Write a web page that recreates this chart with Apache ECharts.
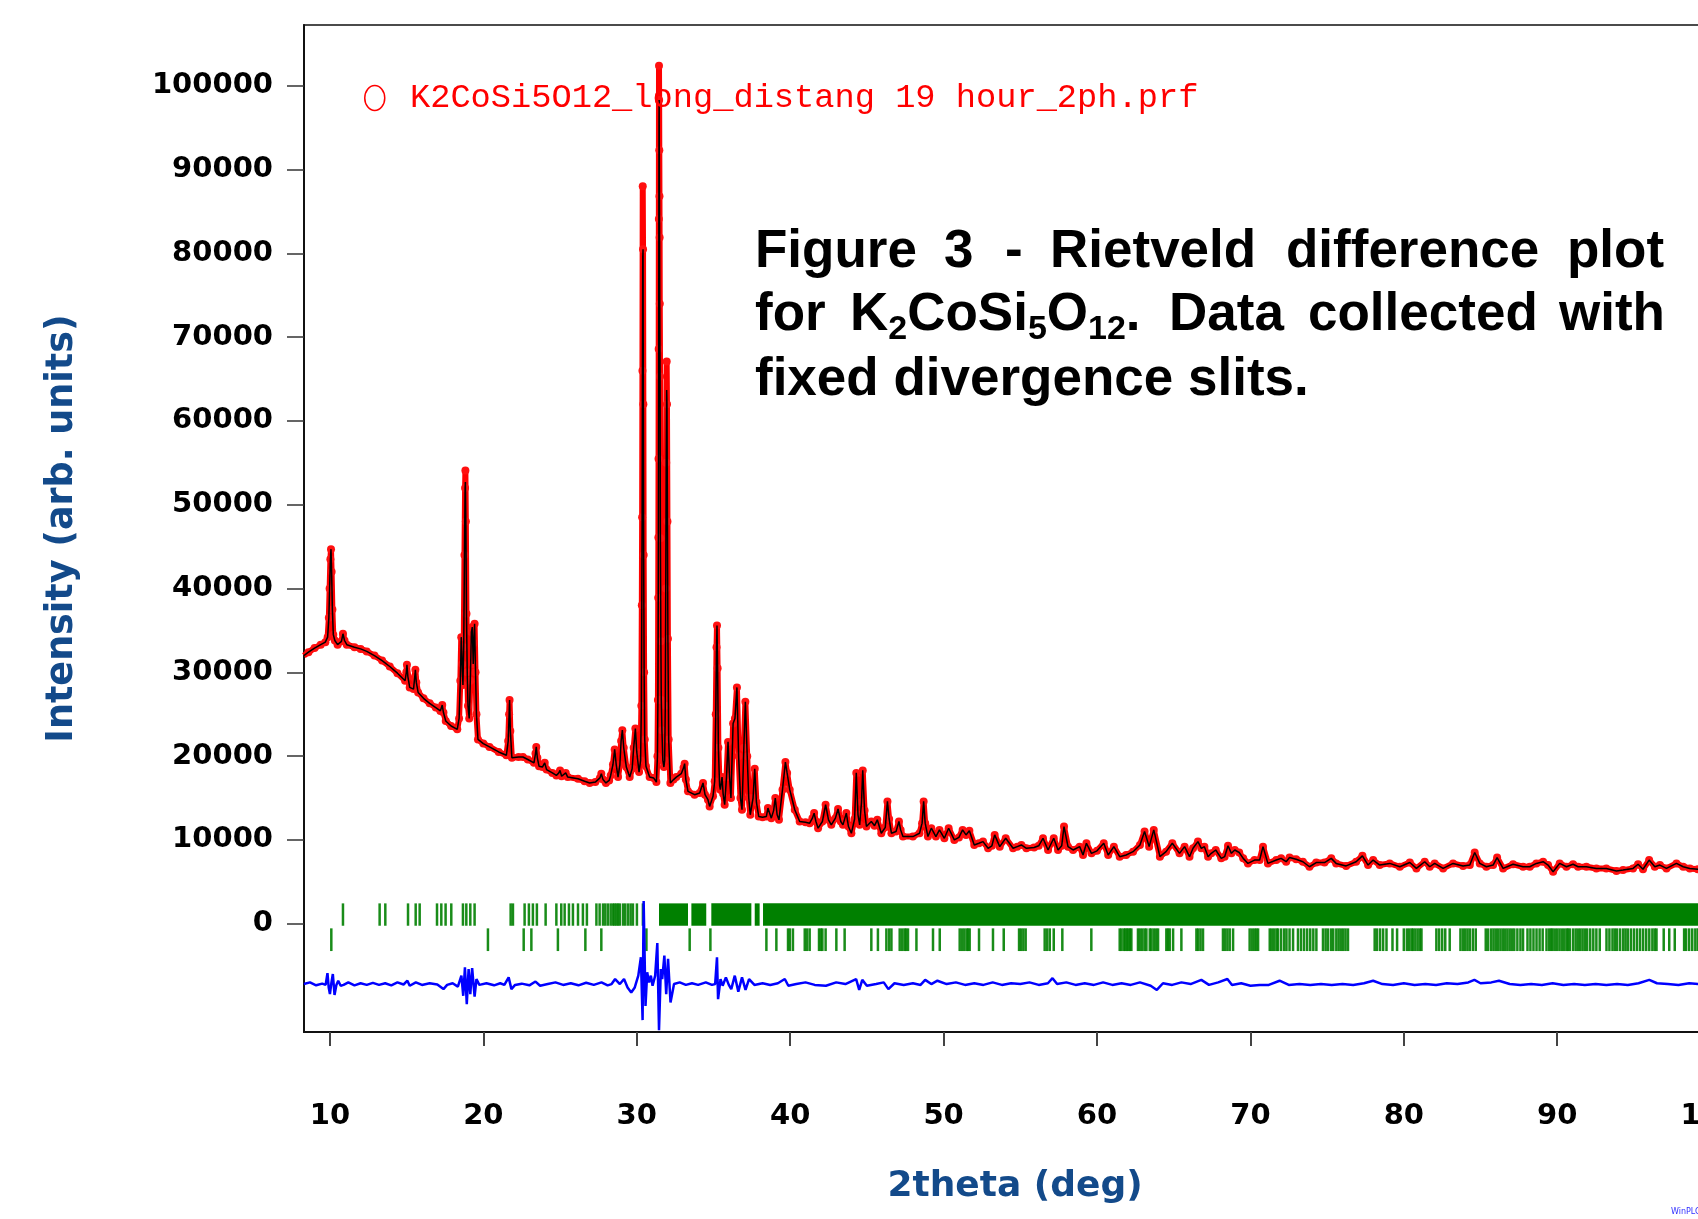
<!DOCTYPE html>
<html>
<head>
<meta charset="utf-8">
<script src="https://cdn.jsdelivr.net/npm/echarts@6/dist/echarts.min.js"></script>
<style>
html, body { margin: 0; padding: 0; background: #fff; }
#main { width: 1698px; height: 1219px; }
</style>
</head>
<body>
<div id="main"></div>
<script>
var obsName = 'K2CoSi5O12_long_distang 19 hour_2ph.prf';

// observed profile, [2theta, counts]
var observed = [
  [8.3, 32000], [8.6, 32400], [9.0, 32900], [9.4, 33300], [9.7, 33600], [9.85, 34200], [9.93, 36500],
  [9.98, 40000], [10.03, 43500], [10.07, 44700], [10.11, 42000], [10.16, 37500], [10.22, 34500],
  [10.32, 33800], [10.5, 33300], [10.75, 33700], [10.85, 34600], [10.95, 33800], [11.1, 33300],
  [11.6, 33000], [12.0, 32800], [12.4, 32500], [12.9, 32000], [13.4, 31400], [13.9, 30700],
  [14.4, 29900], [14.9, 29000], [14.98, 30000], [15.02, 30900], [15.08, 29500], [15.2, 28200],
  [15.45, 28000], [15.52, 29300], [15.57, 30300], [15.63, 28800], [15.75, 27600], [16.1, 26900],
  [16.5, 26300], [16.9, 25800], [17.2, 25400], [17.32, 26100], [17.4, 25200], [17.55, 24200],
  [17.9, 23600], [18.3, 23200], [18.42, 24500], [18.5, 29000], [18.56, 34200], [18.62, 31000],
  [18.67, 28500], [18.72, 33000], [18.77, 44000], [18.81, 52000], [18.83, 54100], [18.86, 48000],
  [18.9, 37000], [18.95, 30000], [19.0, 26000], [19.08, 24500], [19.15, 29000], [19.22, 34800],
  [19.28, 35400], [19.34, 31000], [19.38, 33500], [19.43, 35800], [19.49, 30000], [19.55, 25000],
  [19.65, 22000], [20.0, 21500], [20.4, 21100], [21.0, 20500], [21.5, 20100], [21.62, 21800],
  [21.68, 25000], [21.71, 26700], [21.76, 23000], [21.86, 19800], [22.3, 19900], [22.58, 19900],
  [22.9, 19600], [23.3, 19200], [23.4, 20300], [23.45, 21100], [23.52, 19800], [23.63, 18800],
  [23.85, 18700], [24.0, 19200], [24.12, 18400], [24.5, 18000], [24.76, 17700], [24.92, 18000],
  [25.0, 18300], [25.1, 17600], [25.37, 18000], [25.5, 17500], [26.17, 17300], [26.6, 17000],
  [26.93, 16800], [27.3, 16900], [27.6, 17400], [27.69, 17900], [27.8, 17200], [27.99, 16800],
  [28.2, 17100], [28.3, 17700], [28.45, 19000], [28.56, 20800], [28.66, 19000], [28.78, 17500],
  [28.9, 19000], [28.98, 21800], [29.06, 23100], [29.15, 21000], [29.32, 18700], [29.54, 17500],
  [29.7, 18500], [29.8, 21000], [29.91, 23300], [30.0, 20500], [30.15, 18100], [30.25, 19500],
  [30.3, 26000], [30.33, 38000], [30.35, 48500], [30.37, 66000], [30.39, 88000], [30.41, 80500],
  [30.43, 62000], [30.45, 44000], [30.48, 30000], [30.52, 22000], [30.6, 18800], [30.84, 17500],
  [31.1, 17400], [31.28, 16900], [31.35, 20000], [31.38, 26700], [31.4, 38900], [31.41, 46100],
  [31.42, 55500], [31.43, 68600], [31.44, 84100], [31.45, 102400], [31.46, 98300], [31.47, 92300],
  [31.48, 86800], [31.49, 81900], [31.5, 74000], [31.52, 65300], [31.54, 46000], [31.57, 33700],
  [31.6, 26700], [31.64, 23100], [31.7, 19500], [31.77, 18700], [31.82, 19500], [31.86, 26000],
  [31.89, 40000], [31.92, 55000], [31.95, 67100], [31.97, 62000], [32.0, 48000], [32.03, 34000],
  [32.08, 22000], [32.19, 16800], [32.4, 17200], [32.58, 17500], [32.9, 17900], [33.05, 18600],
  [33.12, 19100], [33.2, 17200], [33.34, 15800], [33.77, 15400], [34.1, 15600], [34.32, 16800],
  [34.45, 15400], [34.64, 14800], [34.75, 14000], [34.97, 15200], [35.08, 17000], [35.15, 25000],
  [35.2, 33000], [35.23, 35600], [35.27, 30500], [35.32, 21000], [35.4, 16500], [35.45, 16000],
  [35.56, 17500], [35.63, 15500], [35.73, 14200], [35.85, 17500], [35.95, 21700], [36.05, 17500],
  [36.14, 15000], [36.28, 23900], [36.4, 24500], [36.53, 28200], [36.64, 20000], [36.76, 15000],
  [36.86, 13600], [36.98, 21000], [37.08, 26500], [37.2, 20000], [37.3, 15000], [37.4, 13000],
  [37.58, 15000], [37.69, 18500], [37.8, 14500], [37.95, 12800], [38.2, 12700], [38.45, 12800],
  [38.55, 13800], [38.77, 12600], [38.92, 13500], [39.03, 15000], [39.15, 13000], [39.27, 12400],
  [39.5, 16000], [39.69, 19300], [39.8, 18000], [39.97, 16000], [40.3, 13600], [40.62, 12200],
  [41.0, 12100], [41.27, 12000], [41.45, 12600], [41.56, 13200], [41.68, 12200], [41.82, 11400],
  [42.1, 12200], [42.31, 14200], [42.5, 12400], [42.68, 11800], [42.95, 12600], [43.12, 13700],
  [43.3, 12200], [43.44, 11800], [43.66, 13200], [43.8, 11600], [43.99, 10800], [44.2, 12500],
  [44.31, 18000], [44.42, 13000], [44.53, 11800], [44.65, 14500], [44.73, 18300], [44.85, 13500],
  [44.97, 11600], [45.29, 12200], [45.5, 11700], [45.68, 12400], [45.94, 10800], [46.2, 11500],
  [46.34, 14600], [46.45, 12500], [46.6, 10800], [46.9, 11000], [47.09, 12200], [47.2, 11200],
  [47.35, 10400], [48.0, 10400], [48.43, 10800], [48.6, 12000], [48.7, 14600], [48.8, 12000],
  [48.98, 10400], [49.2, 11400], [49.5, 10400], [49.73, 11200], [50.05, 10200], [50.33, 11400],
  [50.7, 10000], [51.0, 10300], [51.24, 11200], [51.46, 10600], [51.68, 11100], [52.0, 9400],
  [52.3, 9600], [52.57, 9800], [52.9, 9000], [53.15, 9300], [53.33, 10600], [53.66, 9200],
  [54.05, 10200], [54.53, 9000], [54.8, 9200], [55.07, 9400], [55.4, 9000], [55.9, 9100],
  [56.2, 9300], [56.48, 10200], [56.81, 8800], [57.18, 10200], [57.46, 8800], [57.7, 9300],
  [57.85, 11600], [58.11, 9200], [58.44, 8800], [58.87, 9200], [59.09, 8200], [59.31, 9600],
  [59.64, 8400], [60.0, 8700], [60.44, 9600], [60.73, 8200], [61.1, 9200], [61.48, 8000],
  [61.9, 8200], [62.35, 8600], [62.8, 9400], [63.1, 11000], [63.4, 9200], [63.7, 11200],
  [64.1, 8000], [64.5, 8600], [64.91, 9600], [65.38, 8400], [65.71, 9200], [66.03, 8000],
  [66.26, 9000], [66.58, 9800], [66.8, 9000], [67.0, 9200], [67.24, 8000], [67.45, 8400],
  [67.74, 8800], [68.1, 7800], [68.32, 8000], [68.54, 9300], [68.76, 8400], [68.98, 8800],
  [69.27, 8500], [69.53, 7800], [69.84, 7200], [70.27, 7600], [70.6, 7600], [70.82, 9200],
  [71.14, 7200], [71.69, 7600], [72.0, 7800], [72.33, 7400], [72.55, 7900], [72.98, 7700],
  [73.42, 7400], [73.85, 6800], [74.29, 7300], [74.83, 7300], [75.27, 7800], [75.59, 7200],
  [76.24, 6900], [76.89, 7400], [77.3, 8100], [77.67, 7000], [78.0, 7600], [78.43, 7000],
  [79.08, 7200], [79.74, 6800], [80.39, 7300], [80.82, 6600], [81.36, 7400], [81.69, 6800],
  [82.01, 7200], [82.56, 6600], [83.21, 7200], [83.86, 6900], [84.3, 7000], [84.62, 8500],
  [84.95, 7200], [85.38, 6800], [85.82, 7000], [86.08, 7900], [86.47, 6600], [87.12, 7100],
  [87.77, 6800], [88.21, 6800], [88.64, 7200], [89.08, 7400], [89.4, 7000], [89.73, 6200],
  [90.16, 7200], [90.6, 6800], [91.03, 7100], [91.36, 6800], [91.9, 6800], [92.55, 6600],
  [93.2, 6600], [93.86, 6300], [94.29, 6400], [94.94, 6600], [95.27, 7100], [95.59, 6500],
  [95.99, 7600], [96.36, 6800], [96.69, 7000], [97.12, 6600], [97.77, 7200], [98.21, 6800],
  [98.64, 6600], [99.16, 6500], [100.0, 6700], [100.8, 6600]
];

// where the calculated curve stops short of the observed peak top
var calcPeakTops = [[18.83, 52700], [30.39, 79500], [31.45, 95600], [31.95, 63700]];

// obs - calc, shifted down
var difference = [
  [8.3, -7200], [8.7, -7000], [9.1, -7350], [9.5, -7150], [9.72, -7300], [9.84, -5900], [9.92, -7600],
  [10.0, -8400], [10.1, -7000], [10.19, -6000], [10.3, -8500], [10.42, -7300], [10.54, -6800],
  [10.7, -7400], [10.89, -7300], [11.2, -7000], [11.6, -7350], [12.0, -7100], [12.4, -7300],
  [12.8, -7050], [13.2, -7300], [13.6, -7100], [14.0, -7350], [14.4, -7000], [14.8, -7250],
  [15.05, -6800], [15.2, -7400], [15.6, -7000], [16.0, -7300], [16.5, -7100], [17.0, -7250],
  [17.4, -7800], [17.64, -7300], [18.0, -7100], [18.34, -7500], [18.57, -6200], [18.69, -8600],
  [18.8, -5200], [18.92, -9600], [19.04, -5400], [19.15, -8400], [19.27, -5300], [19.43, -8700],
  [19.55, -6600], [19.74, -7300], [20.2, -7100], [20.7, -7350], [21.1, -7100], [21.37, -7300],
  [21.65, -6400], [21.83, -7800], [22.07, -7300], [22.5, -7150], [23.0, -7350], [23.4, -6900],
  [23.7, -7400], [24.2, -7200], [24.7, -7000], [25.2, -7300], [25.7, -7100], [26.2, -7350],
  [26.7, -7050], [27.2, -7300], [27.7, -7000], [28.1, -7350], [28.36, -7200], [28.59, -6600],
  [28.9, -7200], [29.17, -6600], [29.4, -7600], [29.64, -8200], [29.87, -7600], [30.1, -6200],
  [30.27, -4000], [30.38, -11500], [30.45, 2700], [30.57, -9800], [30.68, -5800], [30.8, -7000],
  [30.92, -6200], [31.03, -7400], [31.2, -6200], [31.34, -2300], [31.45, -12700], [31.57, -5400],
  [31.66, -6600], [31.8, -3800], [31.92, -8400], [32.04, -4200], [32.2, -9400], [32.43, -7200],
  [32.8, -7000], [33.2, -7300], [33.6, -7100], [34.0, -7300], [34.5, -7000], [34.9, -7300],
  [35.11, -7200], [35.23, -4000], [35.3, -9000], [35.46, -6600], [35.6, -7400], [35.81, -6400],
  [36.0, -7300], [36.16, -7800], [36.39, -6200], [36.62, -8100], [36.86, -6400], [37.09, -7900],
  [37.32, -6600], [37.67, -7300], [38.2, -7100], [38.7, -7300], [39.2, -7100], [39.65, -6600],
  [39.88, -7400], [40.4, -7200], [41.0, -7000], [41.6, -7300], [42.33, -7400], [43.0, -7000],
  [43.6, -7200], [44.3, -6600], [44.5, -7900], [44.7, -6700], [45.0, -7400], [45.6, -7200],
  [46.1, -7000], [46.4, -7800], [46.8, -7100], [47.4, -7300], [48.0, -7100], [48.5, -7300],
  [48.8, -6700], [49.2, -7200], [49.6, -6800], [50.2, -7200], [50.8, -7000], [51.4, -7300],
  [52.0, -7100], [52.6, -7300], [53.2, -7000], [53.8, -7300], [54.4, -7100], [55.0, -7200],
  [55.6, -7000], [56.2, -7300], [56.8, -7100], [57.1, -6500], [57.4, -7200], [58.0, -7000],
  [58.6, -7300], [59.2, -7100], [59.8, -7300], [60.4, -7000], [61.0, -7300], [61.6, -7100],
  [62.2, -7300], [62.8, -7000], [63.5, -7400], [63.9, -7900], [64.3, -7100], [64.9, -7300],
  [65.5, -7000], [66.1, -7200], [66.8, -6700], [67.3, -7300], [67.9, -7000], [68.5, -6600],
  [68.8, -7300], [69.4, -7100], [70.0, -7400], [70.6, -7300], [71.2, -7300], [71.9, -6800],
  [72.5, -7300], [73.2, -7200], [73.9, -7300], [74.6, -7200], [75.3, -7300], [76.0, -7200],
  [76.7, -7300], [77.4, -7100], [78.0, -6800], [78.6, -7200], [79.3, -7300], [80.0, -7100],
  [80.7, -7300], [81.4, -7200], [82.1, -7300], [82.8, -7100], [83.5, -7200], [84.2, -7000],
  [84.6, -6700], [85.0, -7100], [85.7, -7000], [86.2, -6800], [86.9, -7200], [87.6, -7300],
  [88.3, -7200], [89.0, -7300], [89.7, -7100], [90.4, -7300], [91.1, -7200], [91.8, -7300],
  [92.5, -7200], [93.2, -7300], [93.9, -7200], [94.6, -7300], [95.3, -7100], [96.0, -6700],
  [96.5, -7100], [97.2, -7200], [97.9, -7300], [98.6, -7100], [99.3, -7200], [100.0, -7100],
  [100.8, -7200]
];

// Bragg reflections, phase 1 (upper row): single ticks, then ranges where they merge
var phase1Ticks = [10.85, 13.24, 13.61, 15.09, 15.59, 15.85, 16.98, 17.26, 17.54, 17.91, 18.67,
  18.89, 19.15, 19.43, 21.78, 21.93, 22.69, 22.97, 23.23, 23.49, 24.06, 24.76, 25.08, 25.3, 25.58,
  25.84, 26.17, 26.49, 26.75, 27.37, 27.58, 27.8, 27.95, 28.12, 28.3, 28.45, 28.55, 28.67, 28.78,
  28.89, 29.1, 29.25, 29.43, 29.6, 29.75, 30.01, 30.4];
var phase1Bands = [[31.45, 33.34], [33.56, 34.53], [34.86, 37.47], [37.69, 38.01], [38.23, 101]];

// phase 2 (lower row)
var phase2Ticks = [10.09, 20.3, 22.63, 23.13, 24.86, 26.65, 27.69, 30.63, 33.45, 34.8, 38.45, 39.1,
  39.86, 39.98, 40.18, 40.95, 41.1, 41.27, 41.88, 42.0, 42.1, 42.31, 43.01, 43.55, 45.29, 45.72,
  46.27, 46.45, 46.6, 47.14, 47.3, 47.45, 47.55, 47.68, 48.23, 49.31, 49.75, 51.05, 51.2, 51.35,
  51.5, 51.6, 51.7, 52.31, 53.22, 53.92, 54.92, 55.05, 55.2, 55.35, 56.59, 56.75, 56.92, 57.18,
  57.74, 59.63, 61.48, 61.6, 61.75, 61.85, 61.95, 62.05, 62.15, 62.24, 62.67, 62.8, 62.95, 63.1,
  63.22, 63.44, 63.55, 63.7, 63.85, 63.98, 64.52, 64.63, 64.74, 64.96, 65.5, 66.48, 66.6, 66.75,
  66.91, 68.21, 68.35, 68.5, 68.65, 68.87, 69.95, 70.1, 70.25, 70.38, 70.5, 71.26, 71.4, 71.55,
  71.7, 71.8, 72.0, 72.2, 72.35, 72.55, 72.78, 73.1, 73.3, 73.5, 73.7, 73.9, 74.1, 74.3, 74.73,
  74.9, 75.05, 75.25, 75.4, 75.6, 75.75, 75.9, 76.05, 76.2, 76.36, 78.1, 78.25, 78.45, 78.65,
  78.87, 79.26, 79.56, 80.0, 80.2, 80.35, 80.5, 80.6, 80.75, 80.9, 81.05, 81.15, 82.12, 82.3,
  82.5, 82.7, 82.99, 83.69, 83.85, 84.0, 84.15, 84.3, 84.5, 84.69, 85.34, 85.5, 85.7, 85.85,
  86.0, 86.15, 86.3, 86.45, 86.6, 86.75, 86.9, 87.05, 87.2, 87.4, 87.6, 87.77, 88.06, 88.25,
  88.45, 88.65, 88.85, 89.05, 89.3, 89.47, 89.6, 89.7, 89.85, 90.0, 90.15, 90.3, 90.45, 90.6,
  90.7, 90.82, 91.03, 91.2, 91.35, 91.5, 91.65, 91.8, 91.95, 92.15, 92.35, 92.55, 92.77, 93.21,
  93.4, 93.6, 93.75, 93.9, 94.1, 94.3, 94.45, 94.6, 94.8, 95.0, 95.2, 95.4, 95.6, 95.8, 96.0,
  96.2, 96.35, 96.47, 96.94, 97.3, 97.66, 98.27, 98.4, 98.6, 98.8, 99.0, 99.16, 99.5, 99.8,
  100.1, 100.4];

var xTickValues = [10, 20, 30, 40, 50, 60, 70, 80, 90, 100];
var yTickValues = [0, 10000, 20000, 30000, 40000, 50000, 60000, 70000, 80000, 90000, 100000];

// vertical extent of the two tick rows, in intensity units
var row1 = [-240, 2430];
var row2 = [-3260, -550];

var calculated = observed.map(function (p) {
    for (var i = 0; i < calcPeakTops.length; i++) {
        if (calcPeakTops[i][0] === p[0]) return [p[0], calcPeakTops[i][1]];
    }
    return p;
});

var chart = echarts.init(document.getElementById('main'));

function tickItem(row) {
    return function (params, api) {
        var x = api.value(0);
        var a = api.coord([x, row[1]]);
        var b = api.coord([x, row[0]]);
        return {
            type: 'line',
            shape: { x1: a[0], y1: a[1], x2: b[0], y2: b[1] },
            style: { stroke: 'rgba(0,128,0,0.9)', lineWidth: 2.5 }
        };
    };
}

function bandItem(row) {
    return function (params, api) {
        var a = api.coord([api.value(0), row[1]]);
        var b = api.coord([api.value(1), row[0]]);
        return {
            type: 'rect',
            shape: { x: a[0], y: a[1], width: b[0] - a[0], height: b[1] - a[1] },
            style: { fill: '#008000' }
        };
    };
}

var boldNum = { fontFamily: 'DejaVu Sans', fontWeight: 'bold', fontSize: 29, color: '#000' };
var titleFont = { fontFamily: 'Liberation Sans', fontWeight: 'bold', fontSize: 53, fill: '#000' };

function word(text, x, y) {
    return {
        type: 'text', x: x, y: y, z: 100,
        style: Object.assign({ text: text, verticalAlign: 'middle' }, titleFont)
    };
}

var option = {
    animation: false,
    backgroundColor: '#fff',
    grid: {
        left: 304, top: 25, width: 1422, height: 1007,
        show: true, borderColor: '#111', borderWidth: 1.5,
        outerBoundsMode: 'none'
    },
    legend: {
        data: [obsName],
        left: 359, top: 76,
        itemWidth: 20, itemHeight: 25,
        icon: 'path://M10,0 A10,12.5 0 1,1 10,25 A10,12.5 0 1,1 10,0 Z',
        itemStyle: { color: 'transparent', borderColor: '#ff0000', borderWidth: 1.5 },
        formatter: ' {name}',
        textStyle: { fontFamily: 'Liberation Mono', fontSize: 33.7, color: '#ff0000' }
    },
    xAxis: {
        type: 'value',
        min: 8.31, max: 101,
        name: '2theta (deg)',
        nameLocation: 'middle',
        nameGap: 137,
        nameTextStyle: { fontFamily: 'DejaVu Sans', fontWeight: 'bold', fontSize: 36, color: '#134a8a' },
        axisLine: { onZero: false, lineStyle: { color: '#111', width: 2 } },
        axisTick: { customValues: xTickValues, length: 14, lineStyle: { color: '#444', width: 2 } },
        axisLabel: Object.assign({ customValues: xTickValues, margin: 70, formatter: function (v) { return String(v); } }, boldNum),
        splitLine: { show: false }
    },
    yAxis: {
        type: 'value',
        min: -12920, max: 107250,
        name: 'Intensity (arb. units)',
        nameLocation: 'middle',
        nameGap: 223,
        nameRotate: 90,
        nameTextStyle: { fontFamily: 'DejaVu Sans', fontWeight: 'bold', fontSize: 36.5, color: '#134a8a' },
        axisLine: { show: true, lineStyle: { color: '#111', width: 2 } },
        axisTick: { show: true, customValues: yTickValues, length: 17, lineStyle: { color: '#333', width: 1.5 } },
        axisLabel: Object.assign({ customValues: yTickValues, margin: 31, formatter: function (v) { return String(v); } }, boldNum),
        splitLine: { show: false }
    },
    series: [
        {
            name: obsName,
            type: 'line',
            data: observed,
            symbol: 'circle',
            symbolSize: 8,
            showAllSymbol: true,
            itemStyle: { color: '#ff1010' },
            lineStyle: { color: '#ff0000', width: 6 },
            clip: true,
            z: 2
        },
        {
            name: 'calc',
            type: 'line',
            data: calculated,
            showSymbol: false,
            lineStyle: { color: '#000', width: 1.5 },
            clip: true,
            z: 3
        },
        {
            name: 'diff',
            type: 'line',
            data: difference,
            showSymbol: false,
            lineStyle: { color: '#0000ff', width: 2.5 },
            clip: true,
            z: 4
        },
        {
            name: 'phase1',
            type: 'custom',
            data: phase1Ticks.map(function (v) { return [v]; }),
            renderItem: tickItem(row1),
            clip: true,
            z: 1
        },
        {
            name: 'phase1 bands',
            type: 'custom',
            data: phase1Bands,
            encode: { x: [0, 1] },
            renderItem: bandItem(row1),
            clip: true,
            z: 1
        },
        {
            name: 'phase2',
            type: 'custom',
            data: phase2Ticks.map(function (v) { return [v]; }),
            renderItem: tickItem(row2),
            clip: true,
            z: 1
        }
    ],
    graphic: [
        word('Figure', 755, 252),
        word('3', 944, 252),
        word('-', 1005, 252),
        word('Rietveld', 1050, 252),
        word('difference', 1286, 252),
        word('plot', 1567, 252),
        word('for', 755, 315),
        {
            type: 'text', x: 850, y: 315, z: 100,
            style: {
                text: '{n|K}{s|2}{n|CoSi}{s|5}{n|O}{s|12}{n|.}',
                verticalAlign: 'middle',
                rich: {
                    n: { fontFamily: 'Liberation Sans', fontWeight: 'bold', fontSize: 53, lineHeight: 64, verticalAlign: 'middle', color: '#000' },
                    s: { fontFamily: 'Liberation Sans', fontWeight: 'bold', fontSize: 34, lineHeight: 64, verticalAlign: 'bottom', color: '#000' }
                }
            }
        },
        word('Data', 1169, 315),
        word('collected', 1308, 315),
        word('with', 1559, 315),
        word('fixed divergence slits.', 755, 380),
        {
            type: 'text', x: 1671, y: 1208, z: 100,
            style: { text: 'WinPLOTR', fontFamily: 'DejaVu Sans', fontSize: 8, fill: '#3030ff' }
        }
    ]
};

chart.setOption(option);
</script>
</body>
</html>
